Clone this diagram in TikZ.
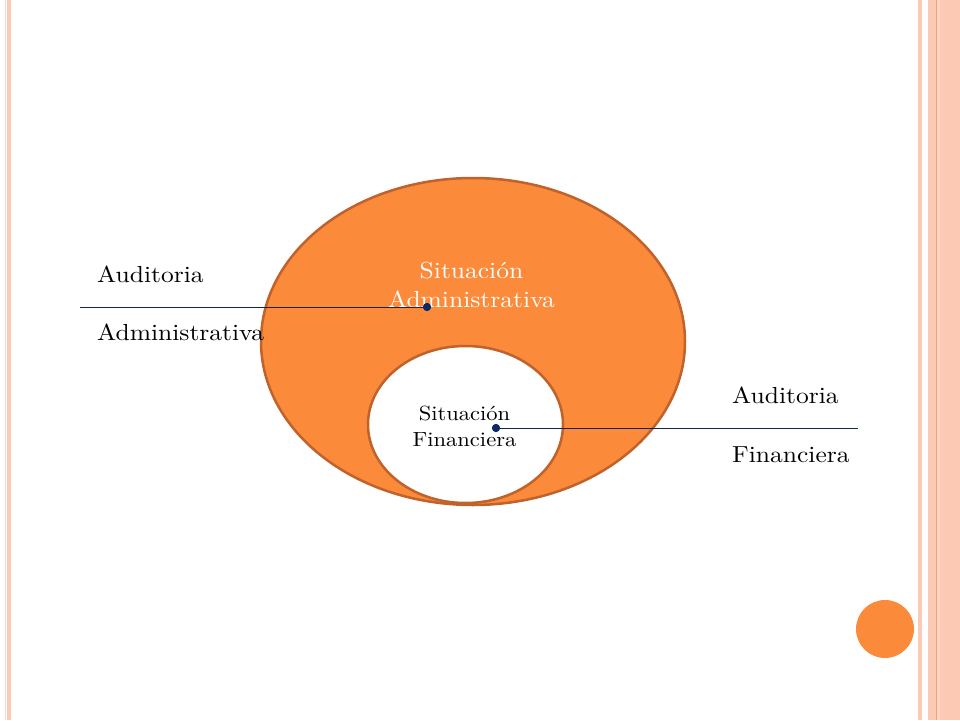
\documentclass[tikz,border=0pt]{standalone}
\usepackage{fontspec}
\setmainfont{lmroman10-regular}[Extension=.otf]
\usetikzlibrary{shapes.geometric}
\definecolor{orfill}{HTML}{FB8A3A}
\definecolor{ordraw}{HTML}{C0622B}
\definecolor{navy}{HTML}{0C2A66}
\definecolor{lnavy}{HTML}{14244F}
\definecolor{salmon}{HTML}{FCC9B5}
\definecolor{palesalmon}{HTML}{FDDCCE}
\definecolor{darksalmon}{HTML}{F2A074}
\newcommand\wtxt[1]{\scalebox{1.1}[1]{#1}}
\tikzset{
  bigtxt/.style={inner sep=0pt, font=\fontsize{23.2}{29}\selectfont},
  smalltxt/.style={inner sep=0pt, font=\fontsize{20.5}{26}\selectfont},
  dotnode/.style={circle, fill=navy, inner sep=0pt, minimum size=8pt},
  connector/.style={draw=lnavy, line width=1pt},
}
\begin{document}
\begin{tikzpicture}[x=1pt,y=-1pt]
\useasboundingbox (0,0) rectangle (960,720);
\fill[white] (0,0) rectangle (960,720);
% border stripes
\fill[palesalmon] (5,0) rectangle (6,720);
\fill[salmon] (7.3,0) rectangle (11.3,720);
\fill[salmon] (918,0) rectangle (922,720);
\fill[salmon] (928,0) rectangle (960,720);
\fill[darksalmon] (935.7,0) rectangle (936.9,720);
\fill[palesalmon!70!salmon] (937,0) rectangle (940,720);
% ellipses
\node[ellipse, draw=ordraw, fill=orfill, line width=2.5pt, minimum width=424pt, minimum height=327pt] (outer) at (473,341.5) {};
\node[ellipse, draw=ordraw, fill=white, line width=2.5pt, minimum width=195pt, minimum height=157pt] (inner) at (465.5,424.5) {};
% inner texts
\node[bigtxt, white, anchor=base] (sa1) at (471.5,278) {\wtxt{Situación}};
\node[bigtxt, white, anchor=base] (sa2) at (471.5,307) {\wtxt{Administrativa}};
\node[smalltxt, anchor=base] (sf1) at (464.5,420) {\wtxt{Situación}};
\node[smalltxt, anchor=base] (sf2) at (464.5,446) {\wtxt{Financiera}};
% labels
\node[bigtxt, anchor=base west] (la1) at (97,282) {\wtxt{Auditoria}};
\node[bigtxt, anchor=base west] (la2) at (97,340) {\wtxt{Administrativa}};
\node[bigtxt, anchor=base west] (lf1) at (732,403) {\wtxt{Auditoria}};
\node[bigtxt, anchor=base west] (lf2) at (732,462) {\wtxt{Financiera}};
% connectors
\coordinate (endA) at (80,307);
\coordinate (endF) at (858,428);
\node[dotnode] (dotA) at (427,307) {};
\node[dotnode] (dotF) at (496,428) {};
\draw[connector] (endA) -- (dotA.center);
\draw[connector] (dotF.center) -- (endF);
\node[dotnode] at (dotA) {};
\node[dotnode] at (dotF) {};
% corner circle
\node[circle, fill=orfill, inner sep=0pt, minimum size=58pt] (corner) at (885,629) {};
\end{tikzpicture}
\end{document}
